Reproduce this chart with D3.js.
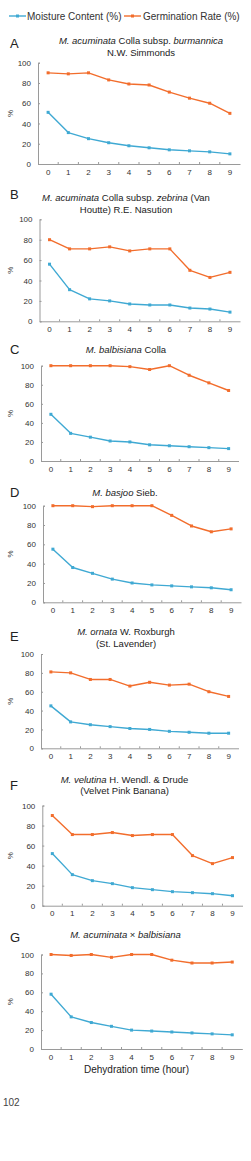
<!DOCTYPE html>
<html>
<head>
<meta charset="utf-8">
<script src="https://cdn.jsdelivr.net/npm/d3@7"></script>
<style>
  body { margin: 0; background: #fff; }
  svg { display: block; font-family: "Liberation Sans", Arial, sans-serif; }
</style>
</head>
<body>
<div id="main"></div>
<script>
// chart values
var hours = [0, 1, 2, 3, 4, 5, 6, 7, 8, 9];
var yTicks = [0, 20, 40, 60, 80, 100];
var seriesNames = ["Moisture Content (%)", "Germination Rate (%)"];
var panelLetters = ["A", "B", "C", "D", "E", "F", "G"];

// titles: lines of [text, italic]
var titles = [
  [[["M. acuminata", 1], [" Colla subsp. ", 0], ["burmannica", 1]], [["N.W. Simmonds", 0]]],
  [[["M. acuminata", 1], [" Colla subsp. ", 0], ["zebrina", 1], [" (Van", 0]], [["Houtte) R.E. Nasution", 0]]],
  [[["M. balbisiana", 1], [" Colla", 0]]],
  [[["M. basjoo", 1], [" Sieb.", 0]]],
  [[["M. ornata", 1], [" W. Roxburgh", 0]], [["(St. Lavender)", 0]]],
  [[["M. velutina", 1], [" H. Wendl. & Drude", 0]], [["(Velvet Pink Banana)", 0]]],
  [[["M. acuminata", 1], [" \u00d7 ", 0], ["balbisiana", 1]]]
];

var moistureA = [51, 31, 25, 21, 18, 16, 14, 13, 12, 10];
var germinationA = [90, 89, 90, 83, 79, 78, 71, 65, 60, 50];
var moistureB = [56, 31, 22, 20, 17, 16, 16, 13, 12, 9];
var germinationB = [80, 71, 71, 73, 69, 71, 71, 50, 43, 48];
var moistureC = [49, 29, 25, 21, 20, 17, 16, 15, 14, 13];
var germinationC = [100, 100, 100, 100, 99, 96, 100, 90, 82, 74];
var moistureD = [55, 36, 30, 24, 20, 18, 17, 16, 15, 13];
var germinationD = [100, 100, 99, 100, 100, 100, 90, 79, 73, 76];
var moistureE = [45, 28, 25, 23, 21, 20, 18, 17, 16, 16];
var germinationE = [81, 80, 73, 73, 66, 70, 67, 68, 60, 55];
var moistureF = [52, 31, 25, 22, 18, 16, 14, 13, 12, 10];
var germinationF = [90, 71, 71, 73, 70, 71, 71, 50, 42, 48];
var moistureG = [58, 34, 28, 24, 20, 19, 18, 17, 16, 15];
var germinationG = [100, 99, 100, 97, 100, 100, 94, 91, 91, 92];

var moisture = [moistureA, moistureB, moistureC, moistureD, moistureE, moistureF, moistureG];
var germination = [germinationA, germinationB, germinationC, germinationD, germinationE, germinationF, germinationG];

// layout of each panel (pixels)
var layout = [
  {top: 62.7, bottom: 164, left: 38, right: 240, titleX: 141, titleY: [44, 56], letterY: 48},
  {top: 219.3, bottom: 321.3, left: 39.5, right: 240, titleX: 126, titleY: [201, 212.5], letterY: 199},
  {top: 365.7, bottom: 461, left: 41, right: 238.5, titleX: 126, titleY: [353], letterY: 354},
  {top: 505.7, bottom: 602.3, left: 43, right: 241, titleX: 125, titleY: [495.5], letterY: 497},
  {top: 654, bottom: 748.3, left: 41, right: 238.5, titleX: 126, titleY: [635, 647], letterY: 640.5},
  {top: 805.5, bottom: 905.7, left: 42.3, right: 242.5, titleX: 124.5, titleY: [783, 794], letterY: 790},
  {top: 954.5, bottom: 1049, left: 41, right: 242.3, titleX: 125.5, titleY: [938], letterY: 941.5}
];

var blue = "#3fa9d3", orange = "#f26d2c", axisColor = "#9a9a9a", textColor = "#333";

var svg = d3.select("#main").append("svg")
    .attr("width", 251)
    .attr("height", 1161);

// legend
var legend = svg.append("g");
[[blue, 9, 27], [orange, 124, 143]].forEach(function(l, i) {
  legend.append("line")
      .attr("x1", l[1]).attr("x2", l[1] + 17)
      .attr("y1", 16).attr("y2", 16)
      .attr("stroke", l[0]).attr("stroke-width", 1.4);
  legend.append("rect")
      .attr("x", l[1] + 7).attr("y", 14.5).attr("width", 3).attr("height", 3)
      .attr("fill", l[0]);
  legend.append("text")
      .attr("x", l[2]).attr("y", 19.5)
      .attr("font-size", 10)
      .attr("fill", textColor)
      .text(seriesNames[i]);
});

layout.forEach(function(p, i) {
  var g = svg.append("g");

  var x = d3.scaleBand()
      .domain(hours)
      .range([p.left, p.right]);

  var y = d3.scaleLinear()
      .domain([0, 100])
      .range([p.bottom, p.top]);

  // panel letter
  g.append("text")
      .attr("x", 10).attr("y", p.letterY)
      .attr("font-size", 13)
      .attr("fill", "#222")
      .text(panelLetters[i]);

  // title
  titles[i].forEach(function(line, j) {
    var t = g.append("text")
        .attr("x", p.titleX).attr("y", p.titleY[j])
        .attr("text-anchor", "middle")
        .attr("font-size", 9.5)
        .attr("fill", "#222");
    line.forEach(function(seg) {
      t.append("tspan")
          .attr("font-style", seg[1] ? "italic" : "normal")
          .text(seg[0]);
    });
  });

  // y axis
  var yAxis = g.append("g")
      .attr("transform", "translate(" + p.left + ",0)")
      .call(d3.axisLeft(y).tickValues(yTicks).tickSize(-2).tickPadding(7));
  yAxis.select(".domain").attr("stroke", axisColor);
  yAxis.selectAll(".tick line").attr("stroke", axisColor);
  yAxis.selectAll("text").attr("font-size", 8).attr("fill", textColor).attr("font-family", "Liberation Sans, Arial, sans-serif");

  // x axis, tick marks between categories
  var xAxis = g.append("g")
      .attr("transform", "translate(0," + p.bottom + ")")
      .call(d3.axisBottom(x).tickSize(0).tickPadding(5));
  xAxis.select(".domain").attr("stroke", axisColor);
  xAxis.selectAll("text").attr("font-size", 8).attr("fill", textColor).attr("font-family", "Liberation Sans, Arial, sans-serif");
  xAxis.selectAll(".between")
      .data(hours.slice(1))
      .enter().append("line")
      .attr("x1", function(d) { return x(d); })
      .attr("x2", function(d) { return x(d); })
      .attr("y1", 0).attr("y2", -2)
      .attr("stroke", axisColor);

  g.append("text")
      .attr("x", 10).attr("y", (p.top + p.bottom) / 2)
      .attr("transform", "rotate(-90,10," + ((p.top + p.bottom) / 2) + ")")
      .attr("text-anchor", "middle")
      .attr("dy", "0.35em")
      .attr("font-size", 8)
      .attr("fill", textColor)
      .text("%");

  var line = d3.line()
      .x(function(d, k) { return x(hours[k]) + x.bandwidth() / 2; })
      .y(function(d) { return y(d); });

  [[moisture[i], blue], [germination[i], orange]].forEach(function(s) {
    g.append("path")
        .datum(s[0])
        .attr("fill", "none")
        .attr("stroke", s[1])
        .attr("stroke-width", 1.4)
        .attr("stroke-linejoin", "round")
        .attr("d", line);
    g.selectAll(null)
        .data(s[0])
        .enter().append("rect")
        .attr("x", function(d, k) { return x(hours[k]) + x.bandwidth() / 2 - 1.5; })
        .attr("y", function(d) { return y(d) - 1.5; })
        .attr("width", 3).attr("height", 3)
        .attr("fill", s[1]);
  });

  if (i === layout.length - 1) {
    g.append("text")
        .attr("x", 136.5).attr("y", 1072.5)
        .attr("text-anchor", "middle")
        .attr("font-size", 10)
        .attr("fill", "#222")
        .text("Dehydration time (hour)");
  }
});

svg.append("text")
    .attr("x", 3).attr("y", 1105.5)
    .attr("font-size", 10)
    .attr("fill", "#444")
    .text("102");
</script>
</body>
</html>
